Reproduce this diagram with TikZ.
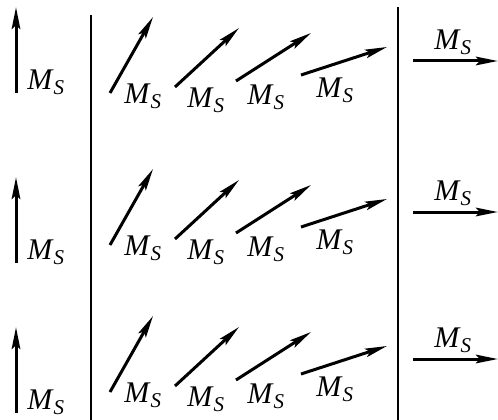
\documentclass[tikz,border=0pt]{standalone}
\usepackage{fontspec}
\setmainfont{Liberation Serif}
\usetikzlibrary{arrows.meta}
\newcommand{\Ms}{\textit{M}\textsubscript{\textit{S}}}
\begin{document}
\begin{tikzpicture}[
  x=1pt, y=-1pt,
  vec/.style={-{Stealth[length=22pt, width=8.5pt, inset=4pt]}, line width=3pt},
  wall/.style={line width=1.6pt},
  lbl/.style={inner sep=0pt, font=\fontsize{30}{32}\selectfont}
]
\useasboundingbox (0,0) rectangle (498,420);
% --- separators ---
\coordinate (w1t) at (91,15);  \coordinate (w1b) at (91,420);
\coordinate (w2t) at (398,7);  \coordinate (w2b) at (398,420);
\draw[wall] (w1t) -- (w1b);
\draw[wall] (w2t) -- (w2b);
% --- rows: offset of middle arrows, left arrow, right arrow ---
\foreach \r/\dm/\dl/\dr in {1/0/0/0, 2/152/170/151, 3/299/320/298}{
  % left: vertical
  \coordinate (l\r s) at (16,93+\dl);
  \coordinate (l\r e) at (16,7+\dl);
  \draw[vec] (l\r s) -- (l\r e);
  \node[lbl] (ml\r) at (46,82+\dl) {\Ms};
  % middle: rotating
  \coordinate (a\r s) at (110,93+\dm);  \coordinate (a\r e) at (153,17+\dm);
  \coordinate (b\r s) at (175,87+\dm);  \coordinate (b\r e) at (239,28+\dm);
  \coordinate (c\r s) at (236,81+\dm);  \coordinate (c\r e) at (311,33+\dm);
  \coordinate (d\r s) at (301,75+\dm);  \coordinate (d\r e) at (387,47+\dm);
  \draw[vec] (a\r s) -- (a\r e);
  \draw[vec] (b\r s) -- (b\r e);
  \draw[vec] (c\r s) -- (c\r e);
  \draw[vec] (d\r s) -- (d\r e);
  \node[lbl] (ma\r) at (143,96+\dm) {\Ms};
  \node[lbl] (mb\r) at (206,100+\dm) {\Ms};
  \node[lbl] (mc\r) at (266,97+\dm) {\Ms};
  \node[lbl] (md\r) at (335,90+\dm) {\Ms};
  % right: horizontal
  \coordinate (r\r s) at (413,61+\dr);
  \coordinate (r\r e) at (498,61+\dr);
  \draw[vec] (r\r s) -- (r\r e);
  \node[lbl] (mr\r) at (453,42+\dr) {\Ms};
}
\end{tikzpicture}
\end{document}
